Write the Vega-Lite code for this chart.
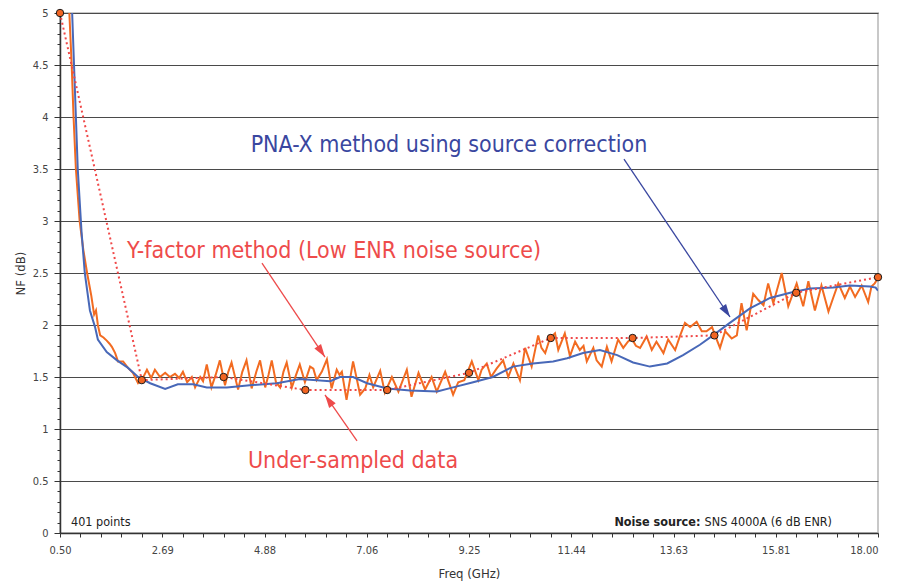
{
  "$schema": "https://vega.github.io/schema/vega-lite/v6.json",
  "autosize": {"type": "none"},
  "width": 818,
  "height": 520,
  "padding": {"left": 60, "top": 13, "right": 23, "bottom": 53},
  "background": "white",
  "config": {
    "view": {"stroke": "#c8c8c8", "strokeWidth": 2},
    "font": "Liberation Sans Narrow, DejaVu Sans Condensed, sans-serif"
  },
  "encoding": {
    "x": {
      "field": "f", "type": "quantitative",
      "scale": {"domain": [0.5, 18], "nice": false, "zero": false},
      "axis": {
        "title": "Freq (GHz)",
        "values": [0.5, 0.9375, 1.375, 1.8125, 2.25, 2.6875, 3.125, 3.5625, 4, 4.4375, 4.875, 5.3125, 5.75, 6.1875, 6.625, 7.0625, 7.5, 7.9375, 8.375, 8.8125, 9.25, 9.6875, 10.125, 10.5625, 11, 11.4375, 11.875, 12.3125, 12.75, 13.1875, 13.625, 14.0625, 14.5, 14.9375, 15.375, 15.8125, 16.25, 16.6875, 17.125, 17.5625, 18],
        "labelExpr": "abs((datum.value-0.5)/2.1875 - round((datum.value-0.5)/2.1875)) < 0.001 ? format(datum.value, '.2f') : ''",
        "labelFlush": false,
        "labelAlign": {"condition": {"test": "datum.value > 17.9", "value": "right"}, "value": "center"},
        "labelOverlap": false,
        "grid": false,
        "domainColor": "#333333", "domainWidth": 1.5,
        "tickColor": "#333333", "tickSize": 4, "tickWidth": 1,
        "labelFont": "Liberation Sans Narrow, DejaVu Sans Condensed, sans-serif",
        "labelFontSize": 11, "labelColor": "#444444", "labelPadding": 7,
        "titleFont": "Liberation Sans Narrow, DejaVu Sans Condensed, sans-serif",
        "titleFontSize": 13, "titleFontWeight": "normal", "titleColor": "#333333", "titlePadding": 12
      }
    },
    "y": {
      "field": "nf", "type": "quantitative",
      "scale": {"domain": [0, 5], "nice": false},
      "axis": {
        "title": "NF (dB)",
        "values": [0, 0.1, 0.2, 0.3, 0.4, 0.5, 0.6, 0.7, 0.8, 0.9, 1, 1.1, 1.2, 1.3, 1.4, 1.5, 1.6, 1.7, 1.8, 1.9, 2, 2.1, 2.2, 2.3, 2.4, 2.5, 2.6, 2.7, 2.8, 2.9, 3, 3.1, 3.2, 3.3, 3.4, 3.5, 3.6, 3.7, 3.8, 3.9, 4, 4.1, 4.2, 4.3, 4.4, 4.5, 4.6, 4.7, 4.8, 4.9, 5],
        "labelExpr": "abs(datum.value*2 - round(datum.value*2)) < 0.001 ? format(datum.value, '~g') : ''",
        "labelFlush": false,
        "labelOverlap": false,
        "grid": true,
        "gridColor": "#4a4a4a",
        "gridWidth": 1,
        "gridOpacity": {"condition": {"test": "abs(datum.value*2 - round(datum.value*2)) < 0.001 && datum.value > 0.01", "value": 1}, "value": 0},
        "tickSize": {"condition": {"test": "abs(datum.value*2 - round(datum.value*2)) < 0.001", "value": 6}, "value": 3},
        "domainColor": "#333333", "domainWidth": 1.5,
        "tickColor": "#333333", "tickWidth": 1,
        "labelFont": "Liberation Sans Narrow, DejaVu Sans Condensed, sans-serif",
        "labelFontSize": 11, "labelColor": "#444444", "labelPadding": 6,
        "titleFont": "Liberation Sans Narrow, DejaVu Sans Condensed, sans-serif",
        "titleFontSize": 13, "titleFontWeight": "normal", "titleColor": "#333333", "titlePadding": 5
      }
    }
  },
  "layer": [
    {
      "data": {"values": [
        {"f": 0.5, "nf": 9.5}, {"f": 0.62, "nf": 7.0}, {"f": 0.70, "nf": 5.0}, {"f": 0.75, "nf": 4.5}, {"f": 0.79, "nf": 4.0}, {"f": 0.84, "nf": 3.5}, {"f": 0.92, "nf": 3.0}, {"f": 1.0, "nf": 2.72}, {"f": 1.08, "nf": 2.5}, {"f": 1.17, "nf": 2.28}, {"f": 1.23, "nf": 2.1}, {"f": 1.27, "nf": 2.14}, {"f": 1.31, "nf": 2.0}, {"f": 1.36, "nf": 1.9}, {"f": 1.43, "nf": 1.88}, {"f": 1.5, "nf": 1.85}, {"f": 1.56, "nf": 1.82}, {"f": 1.61, "nf": 1.79}, {"f": 1.68, "nf": 1.73}, {"f": 1.74, "nf": 1.65}, {"f": 1.85, "nf": 1.65}, {"f": 1.95, "nf": 1.59}, {"f": 2.06, "nf": 1.54}, {"f": 2.17, "nf": 1.44}, {"f": 2.25, "nf": 1.47},
        {"f": 2.36, "nf": 1.57}, {"f": 2.45, "nf": 1.49}, {"f": 2.53, "nf": 1.57}, {"f": 2.64, "nf": 1.50}, {"f": 2.75, "nf": 1.54}, {"f": 2.85, "nf": 1.50}, {"f": 2.96, "nf": 1.53}, {"f": 3.05, "nf": 1.49}, {"f": 3.13, "nf": 1.55}, {"f": 3.22, "nf": 1.45}, {"f": 3.32, "nf": 1.50}, {"f": 3.39, "nf": 1.40}, {"f": 3.50, "nf": 1.50}, {"f": 3.56, "nf": 1.46}, {"f": 3.64, "nf": 1.62}, {"f": 3.74, "nf": 1.40}, {"f": 3.83, "nf": 1.52}, {"f": 3.92, "nf": 1.66}, {"f": 4.03, "nf": 1.42}, {"f": 4.10, "nf": 1.55}, {"f": 4.17, "nf": 1.64}, {"f": 4.31, "nf": 1.38}, {"f": 4.40, "nf": 1.55}, {"f": 4.49, "nf": 1.66}, {"f": 4.60, "nf": 1.39}, {"f": 4.70, "nf": 1.55}, {"f": 4.78, "nf": 1.66}, {"f": 4.89, "nf": 1.40}, {"f": 4.96, "nf": 1.52}, {"f": 5.03, "nf": 1.66}, {"f": 5.12, "nf": 1.45}, {"f": 5.21, "nf": 1.40}, {"f": 5.28, "nf": 1.55}, {"f": 5.35, "nf": 1.64}, {"f": 5.46, "nf": 1.40}, {"f": 5.55, "nf": 1.52}, {"f": 5.63, "nf": 1.62}, {"f": 5.74, "nf": 1.45}, {"f": 5.85, "nf": 1.60}, {"f": 5.92, "nf": 1.58}, {"f": 5.99, "nf": 1.47}, {"f": 6.10, "nf": 1.55}, {"f": 6.21, "nf": 1.67}, {"f": 6.31, "nf": 1.39}, {"f": 6.42, "nf": 1.57}, {"f": 6.48, "nf": 1.52}, {"f": 6.53, "nf": 1.55}, {"f": 6.63, "nf": 1.28}, {"f": 6.77, "nf": 1.65}, {"f": 6.92, "nf": 1.33}, {"f": 7.03, "nf": 1.39}, {"f": 7.12, "nf": 1.52}, {"f": 7.20, "nf": 1.40}, {"f": 7.35, "nf": 1.56}, {"f": 7.45, "nf": 1.35}, {"f": 7.60, "nf": 1.50}, {"f": 7.74, "nf": 1.36}, {"f": 7.92, "nf": 1.57}, {"f": 8.02, "nf": 1.31}, {"f": 8.17, "nf": 1.54}, {"f": 8.31, "nf": 1.38}, {"f": 8.45, "nf": 1.50}, {"f": 8.56, "nf": 1.36}, {"f": 8.74, "nf": 1.55}, {"f": 8.91, "nf": 1.33}, {"f": 9.02, "nf": 1.45}, {"f": 9.15, "nf": 1.47}, {"f": 9.31, "nf": 1.65}, {"f": 9.45, "nf": 1.47}, {"f": 9.52, "nf": 1.57}, {"f": 9.63, "nf": 1.63}, {"f": 9.72, "nf": 1.50}, {"f": 9.84, "nf": 1.58}, {"f": 9.98, "nf": 1.66}, {"f": 10.09, "nf": 1.50}, {"f": 10.20, "nf": 1.63}, {"f": 10.34, "nf": 1.47}, {"f": 10.45, "nf": 1.78}, {"f": 10.59, "nf": 1.60}, {"f": 10.73, "nf": 1.90}, {"f": 10.80, "nf": 1.78}, {"f": 10.88, "nf": 1.73}, {"f": 10.98, "nf": 1.87}, {"f": 11.09, "nf": 1.92}, {"f": 11.16, "nf": 1.76}, {"f": 11.30, "nf": 1.92}, {"f": 11.41, "nf": 1.70}, {"f": 11.52, "nf": 1.84}, {"f": 11.62, "nf": 1.76}, {"f": 11.70, "nf": 1.80}, {"f": 11.77, "nf": 1.65}, {"f": 11.91, "nf": 1.78}, {"f": 11.98, "nf": 1.66}, {"f": 12.09, "nf": 1.60}, {"f": 12.20, "nf": 1.79}, {"f": 12.30, "nf": 1.65}, {"f": 12.44, "nf": 1.86}, {"f": 12.55, "nf": 1.78}, {"f": 12.65, "nf": 1.84}, {"f": 12.73, "nf": 1.87}, {"f": 12.82, "nf": 1.80}, {"f": 12.91, "nf": 1.78}, {"f": 13.05, "nf": 1.89}, {"f": 13.16, "nf": 1.76}, {"f": 13.26, "nf": 1.84}, {"f": 13.41, "nf": 1.73}, {"f": 13.51, "nf": 1.86}, {"f": 13.66, "nf": 1.76}, {"f": 13.76, "nf": 1.89}, {"f": 13.87, "nf": 2.02}, {"f": 13.98, "nf": 1.98}, {"f": 14.12, "nf": 2.03}, {"f": 14.23, "nf": 1.94}, {"f": 14.33, "nf": 1.94}, {"f": 14.45, "nf": 1.98}, {"f": 14.55, "nf": 1.86}, {"f": 14.62, "nf": 1.78}, {"f": 14.73, "nf": 1.94}, {"f": 14.87, "nf": 1.87}, {"f": 14.98, "nf": 1.90}, {"f": 15.08, "nf": 2.21}, {"f": 15.19, "nf": 1.95}, {"f": 15.33, "nf": 2.30}, {"f": 15.44, "nf": 2.24}, {"f": 15.55, "nf": 2.19}, {"f": 15.65, "nf": 2.40}, {"f": 15.76, "nf": 2.21}, {"f": 15.94, "nf": 2.50}, {"f": 16.08, "nf": 2.18}, {"f": 16.26, "nf": 2.40}, {"f": 16.40, "nf": 2.18}, {"f": 16.51, "nf": 2.42}, {"f": 16.65, "nf": 2.14}, {"f": 16.79, "nf": 2.38}, {"f": 16.94, "nf": 2.13}, {"f": 17.04, "nf": 2.26}, {"f": 17.15, "nf": 2.40}, {"f": 17.29, "nf": 2.26}, {"f": 17.40, "nf": 2.37}, {"f": 17.51, "nf": 2.27}, {"f": 17.65, "nf": 2.38}, {"f": 17.79, "nf": 2.22}, {"f": 17.86, "nf": 2.37}, {"f": 17.93, "nf": 2.40}, {"f": 18.0, "nf": 2.45}
      ]},
      "mark": {"type": "line", "color": "#f26b21", "strokeWidth": 2, "clip": true}
    },
    {
      "data": {"values": [
        {"f": 0.5, "nf": 9.5}, {"f": 0.65, "nf": 7.0}, {"f": 0.76, "nf": 5.0}, {"f": 0.80, "nf": 4.5}, {"f": 0.84, "nf": 4.0}, {"f": 0.88, "nf": 3.5}, {"f": 0.96, "nf": 2.9}, {"f": 1.03, "nf": 2.5}, {"f": 1.14, "nf": 2.14}, {"f": 1.25, "nf": 1.98}, {"f": 1.31, "nf": 1.86}, {"f": 1.5, "nf": 1.74}, {"f": 1.72, "nf": 1.66}, {"f": 1.95, "nf": 1.59}, {"f": 2.17, "nf": 1.50}, {"f": 2.43, "nf": 1.44}, {"f": 2.75, "nf": 1.385}, {"f": 3.02, "nf": 1.43}, {"f": 3.35, "nf": 1.43}, {"f": 3.64, "nf": 1.40}, {"f": 4.07, "nf": 1.40}, {"f": 4.56, "nf": 1.42}, {"f": 5.14, "nf": 1.44}, {"f": 5.63, "nf": 1.48}, {"f": 6.28, "nf": 1.46}, {"f": 6.49, "nf": 1.50}, {"f": 6.77, "nf": 1.50}, {"f": 7.07, "nf": 1.44}, {"f": 7.5, "nf": 1.39}, {"f": 7.99, "nf": 1.37}, {"f": 8.57, "nf": 1.36}, {"f": 8.91, "nf": 1.40}, {"f": 9.34, "nf": 1.45}, {"f": 9.76, "nf": 1.50}, {"f": 10.19, "nf": 1.60}, {"f": 10.62, "nf": 1.63}, {"f": 11.05, "nf": 1.65}, {"f": 11.35, "nf": 1.68}, {"f": 11.69, "nf": 1.73}, {"f": 12.05, "nf": 1.76}, {"f": 12.42, "nf": 1.71}, {"f": 12.76, "nf": 1.64}, {"f": 13.12, "nf": 1.60}, {"f": 13.49, "nf": 1.63}, {"f": 13.83, "nf": 1.71}, {"f": 14.19, "nf": 1.81}, {"f": 14.47, "nf": 1.90}, {"f": 14.83, "nf": 2.02}, {"f": 15.26, "nf": 2.16}, {"f": 15.69, "nf": 2.26}, {"f": 16.12, "nf": 2.31}, {"f": 16.55, "nf": 2.35}, {"f": 17.04, "nf": 2.36}, {"f": 17.40, "nf": 2.38}, {"f": 17.83, "nf": 2.37}, {"f": 17.95, "nf": 2.36}, {"f": 18.0, "nf": 2.33}
      ]},
      "mark": {"type": "line", "color": "#4868b8", "strokeWidth": 2, "clip": true}
    },
    {
      "data": {"values": [
        {"f": 0.5, "nf": 5.0}, {"f": 2.25, "nf": 1.47}, {"f": 4.0, "nf": 1.50}, {"f": 5.75, "nf": 1.375}, {"f": 7.5, "nf": 1.375}, {"f": 9.25, "nf": 1.54}, {"f": 11.0, "nf": 1.875}, {"f": 12.75, "nf": 1.875}, {"f": 14.5, "nf": 1.90}, {"f": 16.25, "nf": 2.31}, {"f": 18.0, "nf": 2.46}
      ]},
      "layer": [
        {"mark": {"type": "line", "color": "#f04848", "strokeWidth": 2, "strokeDash": [2, 3]}},
        {"mark": {"type": "point", "filled": true, "fill": "#f26522", "stroke": "#1a1a1a", "strokeWidth": 1, "size": 55, "opacity": 1, "clip": false}}
      ]
    },
    {
      "data": {"values": [{"f": 14.834, "nf": 2.077, "f2": 12.566, "nf2": 3.596}]},
      "layer": [
        {"mark": {"type": "rule", "color": "#3a47a0", "strokeWidth": 1.3}, "encoding": {"x2": {"field": "f2"}, "y2": {"field": "nf2"}}},
        {"mark": {"type": "point", "shape": "M0,0 L-0.4,1.3 L0.4,1.3 Z", "filled": true, "color": "#3a47a0", "size": 400, "angle": 146, "opacity": 1}}
      ]
    },
    {
      "data": {"values": [{"f": 6.169, "nf": 1.692, "f2": 4.821, "nf2": 2.596}]},
      "layer": [
        {"mark": {"type": "rule", "color": "#ee4b4b", "strokeWidth": 1.3}, "encoding": {"x2": {"field": "f2"}, "y2": {"field": "nf2"}}},
        {"mark": {"type": "point", "shape": "M0,0 L-0.4,1.3 L0.4,1.3 Z", "filled": true, "color": "#ee4b4b", "size": 400, "angle": 146, "opacity": 1}}
      ]
    },
    {
      "data": {"values": [{"f": 6.169, "nf": 1.327, "f2": 6.854, "nf2": 0.885}]},
      "layer": [
        {"mark": {"type": "rule", "color": "#ee4b4b", "strokeWidth": 1.3}, "encoding": {"x2": {"field": "f2"}, "y2": {"field": "nf2"}}},
        {"mark": {"type": "point", "shape": "M0,0 L-0.4,1.3 L0.4,1.3 Z", "filled": true, "color": "#ee4b4b", "size": 400, "angle": 325, "opacity": 1}}
      ]
    },
    {
      "data": {"values": [{"f": 8.822, "nf": 3.663, "label": "PNA-X method using source correction"}]},
      "mark": {"type": "text", "color": "#3a47a0", "fontSize": 23, "align": "center", "baseline": "alphabetic", "font": "Liberation Sans Narrow, DejaVu Sans Condensed, sans-serif"},
      "encoding": {"text": {"field": "label"}}
    },
    {
      "data": {"values": [
        {"f": 6.362, "nf": 2.644, "label": "Y-factor method (Low ENR noise source)"},
        {"f": 6.768, "nf": 0.625, "label": "Under-sampled data"}
      ]},
      "mark": {"type": "text", "color": "#ee4b4b", "fontSize": 23, "align": "center", "baseline": "alphabetic", "font": "Liberation Sans Narrow, DejaVu Sans Condensed, sans-serif"},
      "encoding": {"text": {"field": "label"}}
    },
    {
      "data": {"values": [{"f": 0.735, "nf": 0.067, "label": "401 points"}]},
      "mark": {"type": "text", "color": "#222222", "fontSize": 12.5, "align": "left", "baseline": "alphabetic", "font": "Liberation Sans Narrow, DejaVu Sans Condensed, sans-serif"},
      "encoding": {"text": {"field": "label"}}
    },
    {
      "data": {"values": [{"f": 14.2, "nf": 0.067, "label": "Noise source:"}]},
      "mark": {"type": "text", "color": "#222222", "fontSize": 12.5, "fontWeight": "bold", "align": "right", "baseline": "alphabetic", "font": "Liberation Sans Narrow, DejaVu Sans Condensed, sans-serif"},
      "encoding": {"text": {"field": "label"}}
    },
    {
      "data": {"values": [{"f": 17.016, "nf": 0.067, "label": "SNS 4000A (6 dB ENR)"}]},
      "mark": {"type": "text", "color": "#222222", "fontSize": 12.5, "align": "right", "baseline": "alphabetic", "font": "Liberation Sans Narrow, DejaVu Sans Condensed, sans-serif"},
      "encoding": {"text": {"field": "label"}}
    }
  ]
}
